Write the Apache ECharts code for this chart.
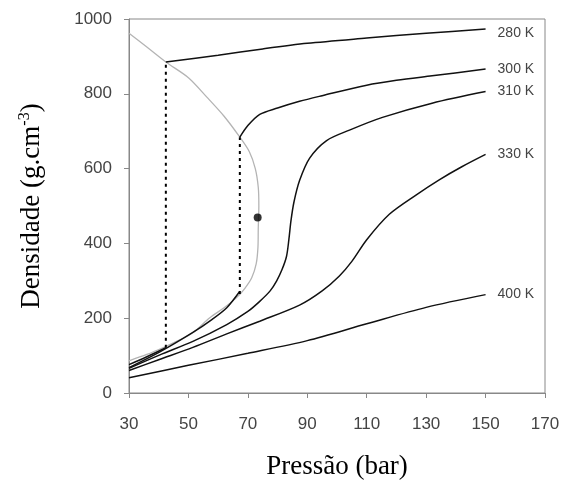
<!DOCTYPE html>
<html>
<head>
<meta charset="utf-8">
<script src="https://cdn.jsdelivr.net/npm/echarts@6/dist/echarts.min.js"></script>
<style>
  html, body { margin: 0; padding: 0; background: #fff; }
  #chart { width: 565px; height: 487px; }
</style>
</head>
<body>
<div id="chart"></div>
<script>
// pressao (bar) x densidade
const curve280 = [[42.4, 885], [60, 903], [75, 920], [90, 935], [110, 949], [130, 962], [150, 973]];
const vapor280 = [[30, 76], [36, 97], [42.4, 121]];
const curve300 = [[67.3, 684], [70, 715], [74, 745], [80, 762], [87.4, 780], [95, 795], [110, 823], [120, 836], [132, 848], [150, 866]];
const vapor300 = [[30, 68], [40.4, 110], [51.5, 162], [58, 197], [62.9, 228], [67.3, 272]];
const curve310 = [[30, 66], [40.4, 102], [51.5, 138], [62.9, 183], [70, 218], [74, 245], [77.5, 273], [79.7, 300], [81.5, 330], [83, 365], [83.8, 410], [84.5, 460], [85.5, 510], [87.4, 568], [90.8, 628], [96.5, 675], [104.2, 703], [115.3, 737], [132, 775], [150, 806]];
const curve330 = [[30, 60], [40, 89], [51.5, 122], [62.9, 158], [74, 192], [87.4, 235], [95, 273], [100.8, 313], [105, 352], [110, 410], [117.6, 478], [126.7, 530], [134.4, 570], [142, 605], [150, 638]];
const curve400 = [[30, 41], [50, 74], [70, 106], [90, 140], [110, 185], [130, 229], [150, 263]];
// curva de coexistencia (cinza)
const dome = [[30, 962], [36, 925], [42.4, 885], [50, 843], [56.2, 791], [62, 740], [67.3, 684], [70.5, 645], [72.5, 600], [73.5, 550], [73.7, 500], [73.5, 440], [73.4, 390], [72.8, 345], [71.3, 308], [69, 280], [66.2, 255], [62, 228], [57.2, 201], [51.5, 161], [46, 138], [41.4, 121], [36, 103], [30, 86]];
const tieLine42 = [[42.4, 121], [42.4, 885]];
const tieLine67 = [[67.3, 265], [67.3, 684]];
const criticalPoint = [[73.3, 469]];

const chart = echarts.init(document.getElementById("chart"));

const black = "#111";
function curve(name, data, labelOffset) {
  return {
    name: name,
    type: "line",
    data: data,
    smooth: 0.3,
    symbol: "none",
    lineStyle: { color: black, width: 1.5 },
    endLabel: {
      show: name !== "",
      formatter: "{a}",
      distance: 12,
      offset: labelOffset || [0, 0],
      color: "#444",
      fontFamily: "Liberation Sans",
      fontSize: 14
    },
    silent: true,
    z: 3
  };
}

chart.setOption({
  animation: false,
  grid: {
    left: 129,
    right: 20,
    top: 19,
    bottom: 94,
    show: true,
    borderColor: "#888",
    borderWidth: 1
  },
  xAxis: {
    type: "value",
    min: 30,
    max: 170,
    interval: 20,
    name: "Pressão (bar)",
    nameLocation: "middle",
    nameGap: 60,
    nameTextStyle: { fontFamily: "Liberation Serif", fontSize: 27, color: "#000" },
    axisLine: { show: true, lineStyle: { color: "#888" } },
    axisTick: { show: true, length: 5, lineStyle: { color: "#888" } },
    axisLabel: { margin: 23, fontFamily: "Liberation Sans", fontSize: 17, color: "#444" },
    splitLine: { show: false }
  },
  yAxis: {
    type: "value",
    min: 0,
    max: 1000,
    interval: 200,
    name: "Densidade (g.cm{sup|-3})",
    nameLocation: "middle",
    nameGap: 82,
    nameTextStyle: {
      fontFamily: "Liberation Serif",
      fontSize: 27,
      color: "#000",
      rich: {
        sup: { fontFamily: "Liberation Serif", fontSize: 16, color: "#000", verticalAlign: "bottom", padding: [0, 0, 14, 0] }
      }
    },
    axisLine: { show: true, lineStyle: { color: "#888" } },
    axisTick: { show: true, length: 5, lineStyle: { color: "#888" } },
    axisLabel: {
      margin: 17,
      fontFamily: "Liberation Sans",
      fontSize: 17,
      color: "#444",
      formatter: function (v) { return String(v); }
    },
    splitLine: { show: false }
  },
  series: [
    {
      name: "dome",
      type: "line",
      data: dome,
      smooth: 0.3,
      symbol: "none",
      lineStyle: { color: "#b4b4b4", width: 1.3 },
      silent: true,
      z: 2
    },
    curve("280 K", curve280, [0, 4]),
    curve("", vapor280),
    curve("300 K", curve300),
    curve("", vapor300),
    curve("310 K", curve310),
    curve("330 K", curve330),
    curve("400 K", curve400),
    {
      type: "line",
      data: tieLine42,
      symbol: "none",
      lineStyle: { color: "#000", width: 2, type: [3, 4] },
      silent: true,
      z: 4
    },
    {
      type: "line",
      data: tieLine67,
      symbol: "none",
      lineStyle: { color: "#000", width: 2, type: [3, 4] },
      silent: true,
      z: 4
    },
    {
      type: "scatter",
      data: criticalPoint,
      symbol: "circle",
      symbolSize: 8,
      itemStyle: { color: "#000" },
      silent: true,
      z: 5
    }
  ]
});
</script>
</body>
</html>
